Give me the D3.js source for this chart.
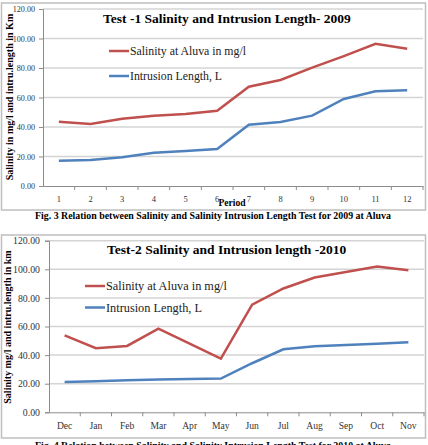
<!DOCTYPE html>
<html>
<head>
<meta charset="utf-8">
<script src="https://d3js.org/d3.v7.min.js"></script>
<style>
body { margin: 0; background: #fff; }
svg { display: block; }
</style>
</head>
<body>
<script>
// Test 1 (2009) - periods 1..12
const periods2009 = ["1","2","3","4","5","6","7","8","9","10","11","12"];
const salinity2009 = [43.6, 42.0, 45.6, 47.7, 48.8, 51.0, 67.3, 71.9, 80.2, 88.1, 96.4, 93.1];
const intrusion2009 = [17.2, 17.6, 19.5, 22.6, 23.7, 25.1, 41.6, 43.4, 47.7, 59.0, 64.2, 64.9];

// Test 2 (2010) - months Dec..Nov
const months2010 = ["Dec","Jan","Feb","Mar","Apr","May","Jun","Jul","Aug","Sep","Oct","Nov"];
const salinity2010 = [53.8, 44.8, 46.4, 58.5, 48.0, 37.6, 75.3, 86.6, 94.3, 98.1, 102.0, 99.4];
const intrusion2010 = [21.2, 21.8, 22.4, 23.0, 23.3, 23.6, 34.3, 44.1, 46.2, 47.1, 48.0, 49.0];

const yTicks = [0, 20, 40, 60, 80, 100, 120];

const RED = "#c0504d", BLUE = "#4f81bd";
const FONT = "Liberation Serif";

const svg = d3.select("body").append("svg")
    .attr("width", 428)
    .attr("height", 445);

function drawChart(o) {
    // outer chart frame
    svg.append("rect")
        .attr("x", o.box[0]).attr("y", o.box[1])
        .attr("width", o.box[2]).attr("height", o.box[3])
        .attr("fill", "#fff").attr("stroke", "#bfbfbf").attr("stroke-width", 1.5);

    const x = d3.scaleBand().domain(o.cats).range([o.left, o.right]);
    const y = d3.scaleLinear().domain([0, 120]).range([o.bottom, o.top]);

    // gridlines
    svg.append("g").selectAll("line").data(yTicks.filter(d => d > 0)).join("line")
        .attr("x1", o.left).attr("x2", o.right)
        .attr("y1", d => y(d)).attr("y2", d => y(d))
        .attr("stroke", "#d4d4d4").attr("stroke-width", 1.5);

    // y axis
    const ya = svg.append("g").attr("transform", `translate(${o.left},0)`)
        .call(d3.axisLeft(y).tickValues(yTicks).tickFormat(d3.format(".2f")).tickSize(4).tickPadding(o.yPad));
    ya.select(".domain").attr("stroke", "#8c8c8c");
    ya.selectAll(".tick line").attr("stroke", "#8c8c8c");
    ya.selectAll("text").attr("font-size", o.yFont).attr("fill", "#333")
        .attr("font-family", FONT);

    // x axis with ticks between categories
    const xa = svg.append("g").attr("transform", `translate(0,${o.bottom})`)
        .call(d3.axisBottom(x).tickSize(0).tickPadding(o.labelPad));
    xa.select(".domain").attr("stroke", "#8c8c8c");
    xa.selectAll("text").attr("font-size", o.xFont).attr("fill", "#333")
        .attr("font-family", FONT);
    svg.append("g").selectAll("line").data(o.cats).join("line")
        .attr("x1", d => x(d) + x.bandwidth()).attr("x2", d => x(d) + x.bandwidth())
        .attr("y1", o.bottom).attr("y2", o.bottom + 4)
        .attr("stroke", "#8c8c8c");

    const line = d3.line()
        .x((d, i) => x(o.cats[i]) + x.bandwidth() / 2)
        .y(d => y(d));

    svg.append("path").datum(o.sal).attr("d", line)
        .attr("fill", "none").attr("stroke", RED).attr("stroke-width", 2.5);
    svg.append("path").datum(o.intr).attr("d", line)
        .attr("fill", "none").attr("stroke", BLUE).attr("stroke-width", 2.5);

    // title
    svg.append("text").attr("x", o.titleX).attr("y", o.titleY)
        .attr("font-family", FONT)
        .attr("font-size", 13.5).attr("font-weight", "bold").attr("fill", "#000")
        .text(o.title);

    // legend
    const leg = [["Salinity at Aluva in mg/l", RED], ["Intrusion Length, L", BLUE]];
    leg.forEach((l, i) => {
        const ly = o.legY[i];
        svg.append("line").attr("x1", o.legX).attr("x2", o.legX + 20)
            .attr("y1", ly).attr("y2", ly)
            .attr("stroke", l[1]).attr("stroke-width", 2.5);
        svg.append("text").attr("x", o.legX + 21).attr("y", ly + 4)
            .attr("font-family", FONT)
            .attr("font-size", o.legFont).attr("fill", "#222").text(l[0]);
    });

    // y title
    svg.append("text")
        .attr("transform", `translate(${o.yLabX},${o.yLabY}) rotate(-90)`)
        .attr("font-family", FONT)
        .attr("text-anchor", "middle").attr("font-size", 10).attr("font-weight", "bold")
        .text(o.yLabel);

    // caption
    svg.append("text").attr("x", 213).attr("y", o.capY)
        .attr("font-family", FONT)
        .attr("text-anchor", "middle").attr("font-size", 9.9).attr("font-weight", "bold")
        .text(o.caption);
}

drawChart({
    box: [1.5, 3, 424, 207],
    left: 43, right: 423, top: 9, bottom: 186,
    cats: periods2009, sal: salinity2009, intr: intrusion2009,
    labelPad: 10, xFont: 8.5, yFont: 8.1, yPad: 4, legFont: 11.8,
    title: "Test -1 Salinity and Intrusion Length- 2009", titleX: 103, titleY: 23,
    legX: 109, legY: [51, 76],
    yLabel: "Salinity in mg/l and intru.length in Km", yLabX: 12.5, yLabY: 97,
    caption: "Fig.  3 Relation between Salinity and Salinity Intrusion Length Test for 2009 at Aluva",
    capY: 219
});
// x axis title of chart 1 sits between 6 and 7
svg.append("text").attr("x", 232).attr("y", 206)
    .attr("font-family", FONT)
    .attr("text-anchor", "middle").attr("font-size", 9.6).attr("font-weight", "bold")
    .text("Period");

drawChart({
    box: [1.5, 235, 424, 203],
    left: 49, right: 424, top: 240.7, bottom: 412.3,
    cats: months2010, sal: salinity2010, intr: intrusion2010,
    labelPad: 10, xFont: 9.6, yFont: 9.8, yPad: 5, legFont: 12.3,
    title: "Test-2 Salinity and Intrusion length -2010", titleX: 107, titleY: 254,
    legX: 85, legY: [286, 307.5],
    yLabel: "Salinity mg/l  and intru.length in km", yLabX: 11, yLabY: 327,
    caption: "Fig.  4 Relation between Salinity and Salinity Intrusion Length Test for 2010 at Aluva",
    capY: 449
});
</script>
</body>
</html>
